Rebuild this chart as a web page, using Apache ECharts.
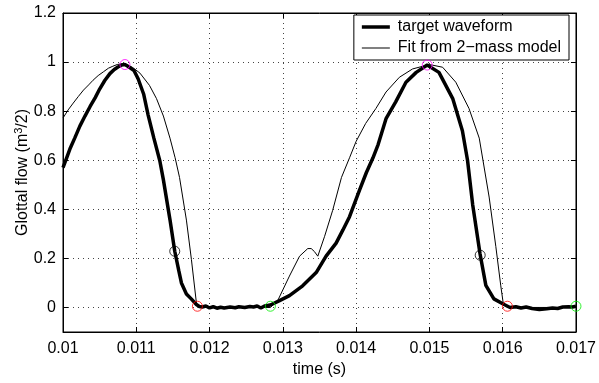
<!DOCTYPE html>
<html>
<head>
<meta charset="utf-8">
<script src="https://cdn.jsdelivr.net/npm/echarts@6/dist/echarts.min.js"></script>
<style>
  html, body { margin: 0; padding: 0; background: #fff; }
  #chart { width: 599px; height: 383px; }
</style>
</head>
<body>
<div id="chart"></div>
<script>
// target waveform (thick) [time, flow]
const targetWave = [
  [0.0100, 0.57], [0.01005, 0.61], [0.0101, 0.65], [0.01016, 0.69], [0.01023, 0.739],
  [0.0103, 0.78], [0.01037, 0.819], [0.01044, 0.855], [0.0105, 0.89], [0.01057, 0.925],
  [0.01064, 0.953], [0.0107, 0.97], [0.01075, 0.98], [0.0108, 0.988], [0.010845, 0.99],
  [0.0109, 0.98], [0.01097, 0.965], [0.011025, 0.932], [0.0111, 0.87], [0.011162, 0.784],
  [0.01124, 0.69], [0.011321, 0.598], [0.01137, 0.52], [0.01146, 0.357], [0.011525, 0.229],
  [0.01158, 0.15], [0.011616, 0.10], [0.011684, 0.055], [0.01175, 0.035], [0.01182, 0.012],
  [0.01186, 0.004], [0.0119, 0.002], [0.01195, 0.006], [0.0120, -0.002], [0.01205, 0.003],
  [0.0121, -0.003], [0.01215, 0.001], [0.0122, -0.002], [0.01228, 0.002], [0.01235, -0.001],
  [0.0124, 0.003], [0.01248, 0.0], [0.01255, 0.004], [0.0126, 0.002], [0.01265, 0.006],
  [0.0127, -0.002], [0.01275, 0.006], [0.01283, 0.01], [0.012955, 0.028], [0.01309, 0.048],
  [0.01327, 0.088], [0.013455, 0.142], [0.01359, 0.209], [0.013727, 0.262], [0.01382, 0.316],
  [0.01391, 0.37], [0.014045, 0.477], [0.01414, 0.55], [0.01423, 0.61], [0.0143, 0.664],
  [0.01441, 0.771], [0.01454, 0.838], [0.01468, 0.918], [0.01482, 0.958], [0.01497, 0.988],
  [0.01513, 0.958], [0.01532, 0.85], [0.01545, 0.72], [0.01552, 0.60], [0.01559, 0.42],
  [0.01569, 0.22], [0.01577, 0.09], [0.01588, 0.035], [0.0160, 0.015], [0.01606, 0.006],
  [0.0161, 0.0], [0.01618, 0.003], [0.01625, -0.002], [0.01632, 0.002], [0.0164, -0.004],
  [0.0165, -0.008], [0.0166, -0.005], [0.01668, -0.002], [0.01675, -0.004], [0.01682, 0.002],
  [0.0169, 0.003], [0.01695, 0.002], [0.0170, 0.005]
];

// fit from the 2-mass model (thin)
const fitWave = [
  [0.0100, 0.772], [0.01007, 0.805], [0.01014, 0.833], [0.01021, 0.86], [0.01028, 0.886],
  [0.01035, 0.907], [0.01041, 0.926], [0.01048, 0.945], [0.01055, 0.96], [0.01062, 0.975],
  [0.01068, 0.983], [0.01074, 0.99], [0.0108, 0.993], [0.01087, 0.99], [0.01095, 0.978],
  [0.01105, 0.955], [0.01118, 0.905], [0.011276, 0.851], [0.01137, 0.78], [0.01146, 0.69],
  [0.01153, 0.61], [0.01159, 0.53], [0.011684, 0.356], [0.011752, 0.196], [0.01182, 0.02],
  [0.01184, 0.0], [0.01283, 0.0], [0.01293, 0.028], [0.01309, 0.128], [0.013228, 0.209],
  [0.01334, 0.24], [0.013387, 0.24], [0.01343, 0.228], [0.013477, 0.209], [0.01357, 0.29],
  [0.01368, 0.396], [0.0138, 0.53], [0.01391, 0.61], [0.0140, 0.677], [0.01413, 0.75],
  [0.01427, 0.811], [0.014408, 0.878], [0.01459, 0.938], [0.01477, 0.972], [0.0150, 0.99],
  [0.01518, 0.979], [0.01536, 0.918], [0.01554, 0.811], [0.01568, 0.69], [0.015815, 0.45],
  [0.015906, 0.249], [0.015974, 0.088], [0.016006, 0.02], [0.01606, 0.0], [0.0170, 0.0]
];

// event markers
const peakPts = [[0.010845, 0.99], [0.01497, 0.988]];
const midPts = [[0.011525, 0.229], [0.015693, 0.213]];
const closePts = [[0.011834, 0.005], [0.016064, 0.005]];
const openPts = [[0.01283, 0.005], [0.0170, 0.005]];

const yTicks = [0, 0.2, 0.4, 0.6, 0.8, 1, 1.2];

const FONT = 'Liberation Sans';
const chart = echarts.init(document.getElementById('chart'));

const gridLine = { show: true, lineStyle: { color: '#444', type: [1, 4], width: 1 } };

function circles(data, color) {
  return {
    type: 'scatter',
    data: data,
    symbol: 'circle',
    symbolSize: 10,
    itemStyle: { color: 'transparent', borderColor: color, borderWidth: 1 },
    z: 5,
    silent: true
  };
}

chart.setOption({
  animation: false,
  textStyle: { fontFamily: FONT },
  grid: { left: 63, right: 22, top: 13, bottom: 46, show: true, borderColor: '#000', borderWidth: 1 },
  legend: {
    orient: 'vertical',
    right: 30,
    top: 15,
    backgroundColor: '#fff',
    borderColor: '#000',
    borderWidth: 1,
    borderRadius: 0,
    padding: [4, 8, 4, 8],
    itemWidth: 28,
    itemHeight: 14,
    itemGap: 5,
    textStyle: { fontFamily: FONT, fontSize: 16, color: '#000', padding: [0, 0, 0, 3] },
    data: [
      { name: 'target waveform', icon: 'path://M0,0H28V3.5H0Z', itemStyle: { color: '#000', borderWidth: 0 } },
      { name: 'Fit from 2\u2212mass model', icon: 'path://M0,0H28V1H0Z', itemStyle: { color: '#000', borderWidth: 0 } }
    ]
  },
  xAxis: [{
    type: 'value',
    min: 0.01,
    max: 0.017,
    interval: 0.001,
    name: 'time (s)',
    nameLocation: 'middle',
    nameGap: 30,
    nameMoveOverlap: false,
    nameTextStyle: { fontSize: 16, color: '#000' },
    axisLine: { show: true, onZero: false, lineStyle: { color: '#000' } },
    axisTick: { show: true, inside: true, length: 5, lineStyle: { color: '#000' } },
    axisLabel: {
      fontSize: 16, color: '#000', margin: 9,
      formatter: v => String(parseFloat(v.toFixed(3)))
    },
    splitLine: gridLine
  }, {
    type: 'value',
    position: 'top',
    min: 0.01,
    max: 0.017,
    interval: 0.001,
    axisLine: { show: true, onZero: false, lineStyle: { color: '#000' } },
    axisTick: { show: true, inside: true, length: 5, lineStyle: { color: '#000' } },
    axisLabel: { show: false },
    splitLine: { show: false }
  }],
  yAxis: [{
    type: 'value',
    min: -0.1,
    max: 1.2,
    name: 'Glottal flow (m{sup|3}/2)',
    nameLocation: 'middle',
    nameGap: 31,
    nameMoveOverlap: false,
    nameTextStyle: {
      fontSize: 16, color: '#000',
      rich: { sup: { fontSize: 11, color: '#000', padding: [0, 0, 8, 0] } }
    },
    axisLine: { show: true, onZero: false, lineStyle: { color: '#000' } },
    axisTick: { show: true, inside: true, length: 5, customValues: yTicks, lineStyle: { color: '#000' } },
    axisLabel: { fontSize: 16, color: '#000', margin: 7, customValues: yTicks },
    splitLine: gridLine
  }, {
    type: 'value',
    position: 'right',
    min: -0.1,
    max: 1.2,
    axisLine: { show: true, onZero: false, lineStyle: { color: '#000' } },
    axisTick: { show: true, inside: true, length: 5, customValues: yTicks, lineStyle: { color: '#000' } },
    axisLabel: { show: false, customValues: yTicks },
    splitLine: { show: false }
  }],
  series: [
    {
      name: 'target waveform',
      type: 'line',
      data: targetWave,
      symbol: 'none',
      lineStyle: { color: '#000', width: 3.5 },
      itemStyle: { color: '#000' },
      z: 3
    },
    {
      name: 'Fit from 2\u2212mass model',
      type: 'line',
      data: fitWave,
      symbol: 'none',
      lineStyle: { color: '#000', width: 1 },
      itemStyle: { color: '#000' },
      z: 4
    },
    circles(peakPts, '#ff00ff'),
    circles(midPts, '#000'),
    circles(closePts, '#ff0000'),
    circles(openPts, '#00ee00')
  ]
});
</script>
</body>
</html>
